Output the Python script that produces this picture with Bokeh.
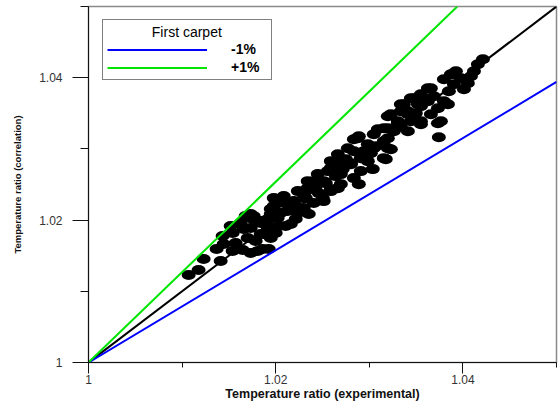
from bokeh.plotting import figure
from bokeh.models import Range1d, FixedTicker, Legend, LegendItem, ColumnDataSource
from bokeh.embed import file_html
from bokeh.resources import INLINE

# ---- data ----
exp_ratio = [
    1.01070, 1.01176, 1.01230, 1.01412, 1.01540, 1.01647, 1.01444, 1.01572, 1.01701, 1.01433,
    1.01540, 1.01658, 1.01840, 1.01786, 1.01519, 1.01626, 1.01754, 1.01679, 1.01840, 1.01915,
    1.01947, 1.01979, 1.01979, 1.01915, 1.01947, 1.01861, 1.01733, 1.01733, 1.01840, 1.01947,
    1.02053, 1.02086, 1.02193, 1.02300, 1.02353, 1.02236, 1.02407, 1.02482, 1.02557, 1.02621,
    1.02664, 1.02771, 1.02835, 1.02803, 1.02835, 1.02696, 1.02589, 1.02503, 1.02407, 1.02300,
    1.02888, 1.02161, 1.02021, 1.02449, 1.02342, 1.02877, 1.02835, 1.02984, 1.03048, 1.03155,
    1.03230, 1.03337, 1.03444, 1.03551, 1.03626, 1.03412, 1.03305, 1.03198, 1.03155, 1.02984,
    1.03198, 1.03444, 1.03551, 1.03626, 1.02909, 1.02771, 1.04214, 1.04160, 1.04118, 1.03979,
    1.03872, 1.03797, 1.03904, 1.04011, 1.03658, 1.03690, 1.03797, 1.03733, 1.03840, 1.03519,
    1.03412, 1.03658, 1.03765, 1.03551, 1.03412, 1.04053, 1.03743, 1.03850, 1.03733, 1.01807,
    1.01925, 1.02107, 1.02214, 1.02128, 1.02321, 1.02460, 1.02535, 1.02642, 1.02717, 1.02749,
    1.02941, 1.03016, 1.03070, 1.03262, 1.03337, 1.03497, 1.02214, 1.02032, 1.02000, 1.02428,
    1.02589, 1.03091, 1.03925, 1.04086, 1.01369,
    1.02888, 1.02930, 1.03198, 1.03337, 1.03369, 1.03476, 1.03305, 1.03155, 1.03230, 1.03176,
    1.03037, 1.02909, 1.02696, 1.02589, 1.02513, 1.02407, 1.02342, 1.02236, 1.02086, 1.02021,
    1.01765, 1.02513, 1.02664, 1.02803, 1.02696, 1.01733, 1.01872, 1.01979, 1.02160, 1.02300,
    1.02589, 1.03198, 1.03048, 1.03551, 1.03476, 1.03583,
]
corr_ratio = [
    1.01230, 1.01300, 1.01454, 1.01426, 1.01566, 1.01580, 1.01664, 1.01678, 1.01748, 1.01776,
    1.01818, 1.01874, 1.01804, 1.01706, 1.01917, 1.01959, 1.02015, 1.02057, 1.01959, 1.02015,
    1.02085, 1.02197, 1.02309, 1.01888, 1.01748, 1.01594, 1.01538, 1.02085, 1.01987, 1.02155,
    1.02099, 1.02239, 1.02267, 1.02365, 1.02085, 1.02099, 1.02449, 1.02547, 1.02688, 1.02786,
    1.02926, 1.03010, 1.03136, 1.02786, 1.02590, 1.02505, 1.02435, 1.02309, 1.02239, 1.02169,
    1.02505, 1.01945, 1.02029, 1.02646, 1.02547, 1.03150, 1.02968, 1.03066, 1.03206, 1.03290,
    1.03487, 1.03627, 1.03711, 1.03767, 1.03851, 1.03487, 1.03389, 1.03010, 1.02870, 1.02828,
    1.03150, 1.03389, 1.03599, 1.03669, 1.02870, 1.02786, 1.04258, 1.04188, 1.04090, 1.03991,
    1.04047, 1.03977, 1.03907, 1.03837, 1.03851, 1.03739, 1.03669, 1.03571, 1.03627, 1.03627,
    1.03529, 1.03487, 1.03389, 1.03389, 1.03248, 1.03921, 1.03164, 1.03809, 1.03361, 1.01566,
    1.01594, 1.01917, 1.02015, 1.02127, 1.02309, 1.02379, 1.02519, 1.02618, 1.02716, 1.02856,
    1.02968, 1.02940, 1.03038, 1.03248, 1.03319, 1.03501, 1.02197, 1.01917, 1.01818, 1.02477,
    1.02828, 1.03277, 1.04090, 1.04020, 1.01594,
    1.03178, 1.02870, 1.03459, 1.03529, 1.03627, 1.03487, 1.03361, 1.03108, 1.02996, 1.02856,
    1.02716, 1.02688, 1.02646, 1.02730, 1.02547, 1.02547, 1.02449, 1.02407, 1.02337, 1.02239,
    1.02057, 1.02267, 1.02449, 1.02800, 1.02856, 1.01888, 1.01804, 1.01888, 1.02197, 1.02309,
    1.02407, 1.03290, 1.03010, 1.03347, 1.03711, 1.03669,
]

parity_x = [1.0, 1.05]
parity_y = [1.0, 1.05]
minus_x = [1.0, 1.05]
minus_y = [1.0, 1.0394]
plus_x = [1.0, 1.0394]
plus_y = [1.0, 1.05]

tick_values = [1.0, 1.02, 1.04]
tick_labels = ["1", "1.02", "1.04"]
minor_values = [1.01, 1.03, 1.05]

legend_title = "First carpet"
legend_labels = ["-1%", "+1%"]

# ---- figure ----
p = figure(width=558, height=405, output_backend="svg", toolbar_location=None,
           x_range=Range1d(1.0, 1.05), y_range=Range1d(1.0, 1.05),
           min_border_left=88, min_border_right=2, min_border_top=6, min_border_bottom=43)
p.grid.visible = False
p.background_fill_color = "white"
p.border_fill_color = "white"
p.outline_line_color = "#8a8a8a"
p.outline_line_width = 1.5

for ax in (p.xaxis[0], p.yaxis[0]):
    ax.ticker = FixedTicker(ticks=tick_values, minor_ticks=minor_values)
    ax.major_label_overrides = dict(zip(tick_values, tick_labels))
    ax.axis_line_color = "#111111"
    ax.major_tick_line_color = "#111111"
    ax.minor_tick_line_color = "#111111"
    ax.major_tick_in = 0
    ax.minor_tick_in = 0
    ax.major_label_text_font = "Liberation Sans"
    ax.major_label_text_font_size = "12px"
    ax.major_label_text_color = "#333333"
    ax.axis_label_text_font = "Liberation Sans"
    ax.axis_label_text_font_style = "bold"
    ax.axis_label_text_color = "#111111"

p.xaxis.axis_label = "Temperature ratio (experimental)"
p.yaxis.axis_label = "Temperature ratio (correlation)"
p.xaxis.major_tick_out = 11
p.xaxis.minor_tick_out = 5
p.xaxis.major_label_standoff = 1
p.xaxis.axis_label_standoff = 0
p.xaxis.axis_label_text_font_size = "12.5px"
p.yaxis.major_tick_out = 16
p.yaxis.minor_tick_out = 8
p.yaxis.major_label_standoff = 10
p.yaxis.axis_label_standoff = 13
p.yaxis.axis_label_text_font_size = "9.5px"

src = ColumnDataSource(dict(x=exp_ratio, y=corr_ratio))
p.line(parity_x, parity_y, line_color="black", line_width=2)
p.ellipse(x="x", y="y", width=14, height=10, width_units="screen", height_units="screen",
          source=src, fill_color="black", line_color=None)
r_minus = p.line(minus_x, minus_y, line_color="#0000ff", line_width=2)
r_plus = p.line(plus_x, plus_y, line_color="#00e600", line_width=2)

em = "\u2003"
legend = Legend(
    items=[LegendItem(label=legend_labels[0], renderers=[r_minus]),
           LegendItem(label=legend_labels[1], renderers=[r_plus])],
    title=em * 3 + "\u2009" + legend_title + em * 3 + "\u2009",
    location=(14, 282),
    padding=4, spacing=2, margin=0,
    glyph_width=100, glyph_height=15, label_height=15, label_standoff=24,
    label_text_font="Liberation Sans", label_text_font_style="bold",
    label_text_font_size="14px", label_text_color="black",
    title_text_font="Liberation Sans", title_text_font_style="normal",
    title_text_font_size="14px", title_text_color="black", title_standoff=1,
    border_line_color="black", border_line_width=1,
    background_fill_color="white", background_fill_alpha=1.0,
)
p.add_layout(legend)

open("out.html", "w").write(file_html(p, INLINE))
